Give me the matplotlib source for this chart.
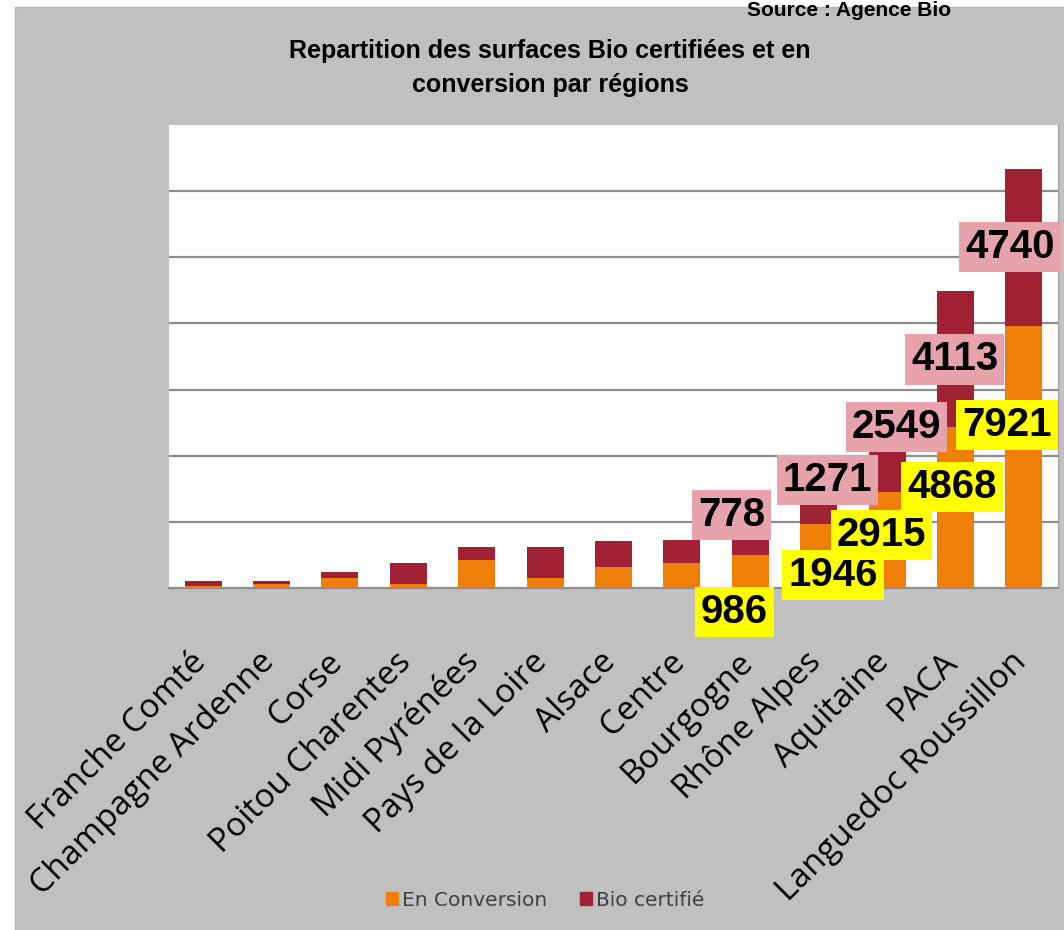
import matplotlib.pyplot as plt
from matplotlib.patches import Rectangle, Patch
from matplotlib.transforms import ScaledTranslation

# ── Data ──────────────────────────────────────────────────────────────────────
regions = ['Franche Comté', 'Champagne Ardenne', 'Corse', 'Poitou Charentes',
           'Midi Pyrénées', 'Pays de la Loire', 'Alsace', 'Centre',
           'Bourgogne', 'Rhône Alpes', 'Aquitaine', 'PACA',
           'Languedoc Roussillon']
en_conversion = [50, 130, 313, 112, 851, 313, 648, 751, 986, 1946, 2915, 4868, 7921]
bio_certifie = [150, 80, 180, 640, 386, 924, 781, 708, 778, 1271, 2549, 4113, 4740]

# only the five largest regions carry value boxes
labelled = [8, 9, 10, 11, 12]

ORANGE = '#F07F0A'
RED = '#A12235'
GREY = '#C0C0C0'

fig = plt.figure(figsize=(10.64, 9.30), dpi=100)
fig.patch.set_facecolor('white')
bg = Rectangle((15 / 1064, 0), 1, 1 - 7 / 930, transform=fig.transFigure,
               facecolor=GREY, edgecolor='#b4b4b4', lw=1, zorder=-10)
fig.patches.append(bg)

fig.text(747 / 1064, 1 - 1 / 930, 'Source : Agence Bio', fontsize=15,
         fontweight='bold', family='Liberation Sans', va='top', ha='left')

ax = fig.add_axes([169 / 1064, (930 - 588) / 930, (1058 - 169) / 1064, (588 - 125) / 930])
ax.set_facecolor('white')

x = range(len(regions))
ax.bar(x, en_conversion, width=0.54, color=ORANGE, zorder=3)
ax.bar(x, bio_certifie, width=0.54, bottom=en_conversion, color=RED, zorder=3)

ax.set_xlim(-0.5, len(regions) - 0.5)
ax.set_ylim(0, 14000)
ax.set_yticks(range(2000, 14000, 2000))
ax.yaxis.grid(True, color='#8c8c8c', lw=1.6, zorder=1)
ax.tick_params(axis='y', left=False, labelleft=False)
ax.tick_params(axis='x', bottom=False, pad=38)
for s in ['left', 'top']:
    ax.spines[s].set_visible(False)
ax.spines['bottom'].set_color('#8c8c8c')
ax.spines['bottom'].set_linewidth(1.6)
ax.spines['right'].set_color('#a0a0a0')

ax.set_xticks(list(x))
ax.set_xticklabels(regions, rotation=45, ha='right', va='top',
                   rotation_mode='anchor', fontsize=24, family='Open Sans')
for lab in ax.get_xticklabels():
    lab.set_transform(lab.get_transform() + ScaledTranslation(-0.14, 0, fig.dpi_scale_trans))

# hand-placed value boxes (x offset from bar, y in data units)
pink_pos = [(-0.27, 2212), (0.13, 3270), (0.14, 4880), (-0.01, 6910), (-0.20, 10300)]
yellow_pos = [(-0.23, -727), (0.21, 394), (-0.08, 1606), (-0.05, 3060), (-0.25, 4940)]
box_kw = dict(ha='center', va='center', fontsize=29, fontweight='bold',
              family='Liberation Sans', clip_on=False, zorder=5)
for k, i in enumerate(labelled):
    dx, yy = pink_pos[k]
    ax.text(i + dx, yy, f'{bio_certifie[i]}',
            bbox=dict(boxstyle='square,pad=0.15', fc='#E6A3AC', ec='none'), **box_kw)
    dx, yy = yellow_pos[k]
    ax.text(i + dx, yy, f'{en_conversion[i]}',
            bbox=dict(boxstyle='square,pad=0.15', fc='#FFFF00', ec='none'), **box_kw)

fig.text(550 / 1064, 1 - 68 / 930,
         'Repartition des surfaces Bio certifiées et en\nconversion par régions',
         ha='center', va='center', fontsize=18, fontweight='bold',
         family='Liberation Sans', linespacing=1.5)

handles = [Patch(color=ORANGE, label='En Conversion'),
           Patch(color=RED, label='Bio certifié')]
fig.legend(handles=handles, loc='center', bbox_to_anchor=(545 / 1064, 1 - 900 / 930),
           ncol=2, frameon=False, fontsize=14.5, labelcolor='#404040',
           handlelength=0.6, handleheight=0.6, handletextpad=0.2, columnspacing=1.6)

plt.savefig('out.png', dpi=100, facecolor=fig.get_facecolor())
